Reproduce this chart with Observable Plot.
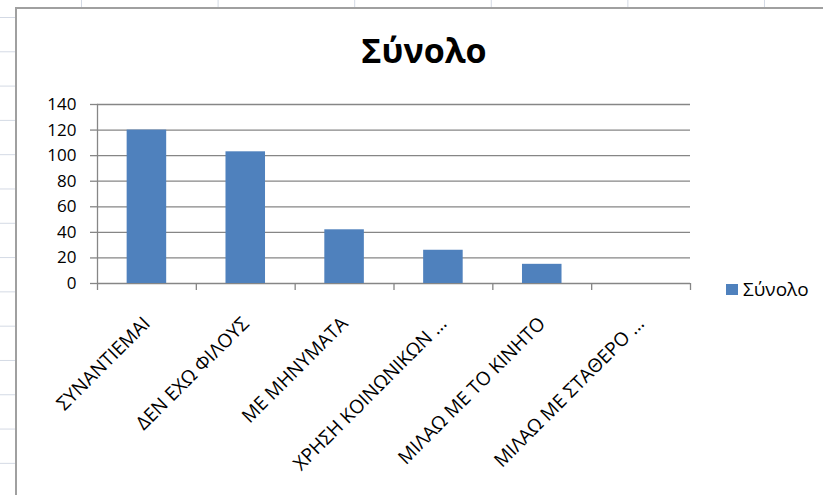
<!DOCTYPE html>
<html>
<head>
<meta charset="utf-8">
<script src="https://cdn.jsdelivr.net/npm/d3@7"></script>
<script src="https://cdn.jsdelivr.net/npm/@observablehq/plot@0.6"></script>
<style>
  html, body { margin: 0; padding: 0; width: 823px; height: 495px; overflow: hidden; background: #fff; }
  #sheet {
    position: relative; width: 823px; height: 495px; overflow: hidden;
    background-color: #fff;
    background-image:
      linear-gradient(to right, #d3d9e4 0, #d3d9e4 1px, transparent 1px),
      linear-gradient(to bottom, #d3d9e4 0, #d3d9e4 1px, transparent 1px);
    background-size: 136.6px 100%, 100% 34.3px;
    background-position: 81px 0, 0 17px;
    background-repeat: repeat-x, repeat-y;
  }
  #box {
    position: absolute; left: 15px; top: 7px; right: -20px; bottom: -20px;
    background: #fff; border-left: 2px solid #a0a0a0; border-top: 2px solid #a0a0a0;
  }
  #chart { position: absolute; left: 0; top: 0; }
  #title {
    position: absolute; left: 0; width: 848px; top: 33px; text-align: center;
    font: 700 34px/34px "Open Sans", sans-serif; color: #000;
  }
  #legend {
    position: absolute; left: 726px; top: 278px; height: 22px;
    display: flex; align-items: center; gap: 5px;
    font: 19px/22px "Open Sans", sans-serif; color: #000;
  }
  #legend .sw { width: 12px; height: 11px; background: #4f81bd; }
</style>
</head>
<body>
<div id="sheet">
  <div id="box"></div>
  <div id="chart"></div>
  <div id="title">Σύνολο</div>
  <div id="legend"><span class="sw"></span><span>Σύνολο</span></div>
</div>
<script>
const categories = [
  "ΣΥΝΑΝΤΙΕΜΑΙ",
  "ΔΕΝ ΕΧΩ ΦΙΛΟΥΣ",
  "ΜΕ ΜΗΝΥΜΑΤΑ",
  "ΧΡΗΣΗ ΚΟΙΝΩΝΙΚΩΝ ...",
  "ΜΙΛΑΩ ΜΕ ΤΟ ΚΙΝΗΤΟ",
  "ΜΙΛΑΩ ΜΕ ΣΤΑΘΕΡΟ ..."
];
const values = [120, 103, 42, 26, 15, 0];
const yTicks = [0, 20, 40, 60, 80, 100, 120, 140];
const seriesName = "Σύνολο";

const data = categories.map((c, i) => ({category: c, value: values[i]}));

const W = 823, H = 495;
const mL = 97, mR = 133, mT = 104, mB = 212;
const step = (W - mL - mR) / categories.length;
const grid = "#868686";

const chart = Plot.plot({
  width: W, height: H,
  marginLeft: mL, marginRight: mR, marginTop: mT, marginBottom: mB,
  style: {background: "transparent", overflow: "visible", fontFamily: "'Open Sans', sans-serif"},
  x: {domain: categories, paddingInner: 0.6, paddingOuter: 0.3, round: false, axis: null},
  y: {domain: [0, 140], axis: null},
  marks: [
    Plot.ruleY(yTicks, {stroke: grid, strokeWidth: 1.3}),
    Plot.barY(data, {x: "category", y: "value", fill: "#4f81bd"}),
    Plot.frame({anchor: "left", stroke: grid, strokeWidth: 1.3}),
    Plot.axisY({ticks: yTicks, label: null, tickSize: 7, tickPadding: 14, fontSize: 17, fill: "#000", stroke: grid, strokeWidth: 1.3}),
    Plot.ruleX(categories, {x: d => d, y1: 0, insetBottom: -7, dx: -step / 2, stroke: grid, strokeWidth: 1.3}),
    Plot.ruleX(categories.slice(-1), {x: d => d, y1: 0, insetBottom: -7, dx: step / 2, stroke: grid, strokeWidth: 1.3}),
    Plot.text(categories, {x: d => d, frameAnchor: "bottom", dy: 37, rotate: -45, textAnchor: "end", lineAnchor: "middle", fontSize: 19, fill: "#000"})
  ]
});
document.getElementById("chart").appendChild(chart);
</script>
</body>
</html>
